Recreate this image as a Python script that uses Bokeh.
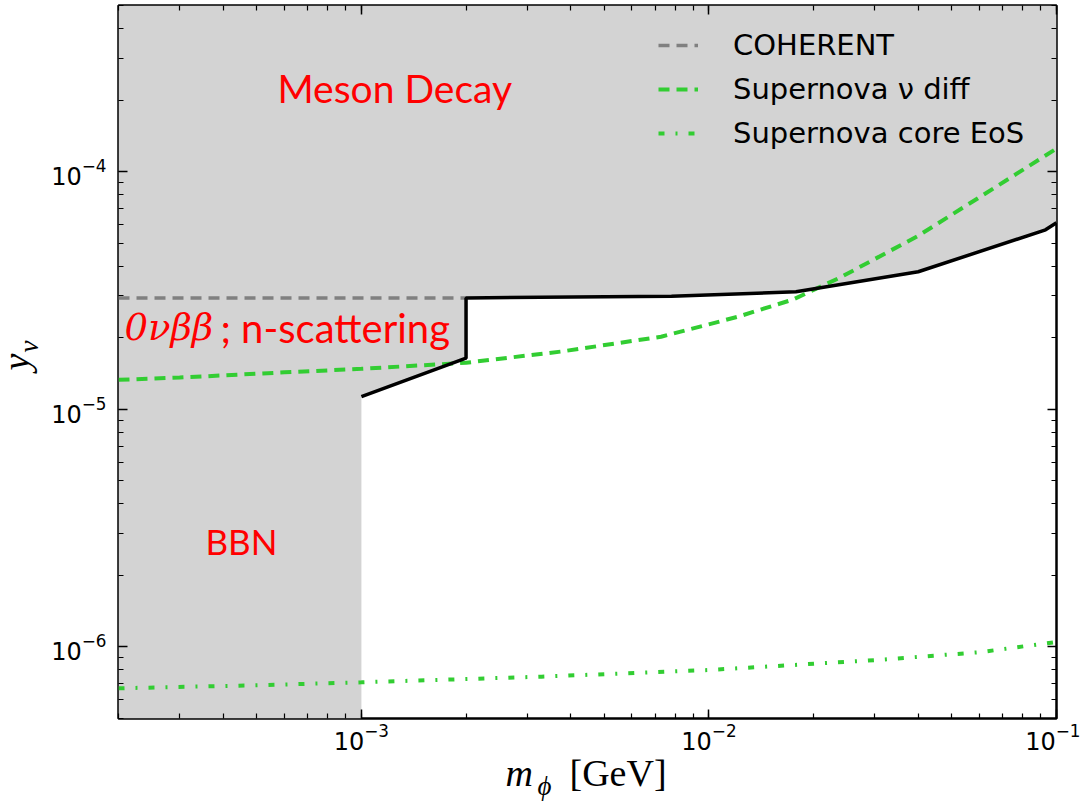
from bokeh.plotting import figure
from bokeh.layouts import row, column
from bokeh.models import LogAxis, LogTicker, Label, Legend, LegendItem, Range1d, CustomJSTickFormatter
from bokeh.embed import file_html
from bokeh.resources import INLINE

# ---------------- data ----------------
x_lim = [2e-4, 1e-1]
y_lim = [5e-7, 5e-4]

# COHERENT (gray dashed)
coherent_x = [2e-4, 2e-3]
coherent_y = [2.94e-5, 2.94e-5]

# combined exclusion boundary (black)
bound_x = [1e-3, 2e-3, 2e-3, 7.8e-3, 1.78e-2, 4.0e-2, 9.3e-2, 1e-1]
bound_y = [1.13e-5, 1.64e-5, 2.94e-5, 2.99e-5, 3.12e-5, 3.79e-5, 5.69e-5, 6.1e-5]

# BBN limit on m_phi
bbn_x = 1e-3

# Supernova nu diff (green dashed)
sn_diff_x = [2e-4, 3e-4, 6e-4, 1e-3, 2e-3, 3.76e-3, 7.28e-3, 1.21e-2, 1.75e-2, 2.39e-2, 4.0e-2, 6.17e-2, 1e-1]
sn_diff_y = [1.33e-5, 1.36e-5, 1.43e-5, 1.48e-5, 1.57e-5, 1.75e-5, 2.02e-5, 2.45e-5, 2.90e-5, 3.59e-5, 5.37e-5, 8.0e-5, 1.25e-4]

# Supernova core EoS (green dash-dot)
sn_eos_x = [2e-4, 5e-4, 1e-3, 3.3e-3, 1e-2, 3e-2, 6e-2, 1e-1]
sn_eos_y = [6.7e-7, 6.9e-7, 7.1e-7, 7.5e-7, 8.0e-7, 8.8e-7, 9.5e-7, 1.05e-6]

legend_labels = ["COHERENT", "Supernova \u03bd diff", "Supernova core EoS"]

GRAY_FILL = "#d3d3d3"
GREEN = "#32cd32"

YLAB_W = 46
MAIN_H = 753
XLAB_H = 53

p = figure(width=1034, height=MAIN_H, x_axis_type="log", y_axis_type="log",
           x_range=Range1d(x_lim[0], x_lim[1]), y_range=Range1d(y_lim[0], y_lim[1]),
           output_backend="svg", toolbar_location=None,
           min_border_left=72, min_border_right=24, min_border_top=5, min_border_bottom=35)
p.grid.visible = False
p.background_fill_color = "white"
p.border_fill_color = "white"
p.outline_line_color = "black"
p.outline_line_width = 2.5
p.outline_line_alpha = 1.0

# shaded excluded region
patch_x = [x_lim[0], bbn_x] + bound_x + [x_lim[1], x_lim[0]]
patch_y = [y_lim[0], y_lim[0]] + bound_y + [y_lim[1], y_lim[1]]
p.patch(patch_x, patch_y, fill_color=GRAY_FILL, line_color=None)

r_coh = p.line(coherent_x, coherent_y, line_color="#808080", line_width=3.5, line_dash="11 7")
r_diff = p.line(sn_diff_x, sn_diff_y, line_color=GREEN, line_width=4, line_dash="11 7")
r_eos = p.line(sn_eos_x, sn_eos_y, line_color=GREEN, line_width=4, line_dash="6 11 2 11")
p.line(bound_x, bound_y, line_color="black", line_width=3.5)

# axes styling
def style_axis(ax):
    ax.axis_line_color = None
    ax.major_tick_in = 9
    ax.major_tick_out = 0
    ax.minor_tick_in = 5
    ax.minor_tick_out = 0
    ax.major_tick_line_color = "black"
    ax.minor_tick_line_color = "black"
    ax.major_tick_line_width = 1.5
    ax.minor_tick_line_width = 1.2
    ax.major_label_text_font = "DejaVu Sans"
    ax.major_label_text_color = "black"
    ax.major_label_text_font_size = "24px"

for ax in p.xaxis:
    ax.ticker = LogTicker(mantissas=[1], num_minor_ticks=10)
    style_axis(ax)
    ax.major_label_standoff = 4
for ax in p.yaxis:
    ax.ticker = LogTicker(mantissas=[1], num_minor_ticks=10)
    style_axis(ax)
    ax.major_label_standoff = 12

top_ax = LogAxis(ticker=LogTicker(mantissas=[1], num_minor_ticks=10),
                 formatter=CustomJSTickFormatter(code="return ''"))
style_axis(top_ax)
top_ax.major_label_standoff = 0
top_ax.major_label_text_font_size = "1px"
p.add_layout(top_ax, "above")
right_ax = LogAxis(ticker=LogTicker(mantissas=[1], num_minor_ticks=10),
                   formatter=CustomJSTickFormatter(code="return ''"))
style_axis(right_ax)
right_ax.major_label_standoff = 0
right_ax.major_label_text_font_size = "1px"
p.add_layout(right_ax, "right")

# legend
legend = Legend(items=[LegendItem(label=legend_labels[0], renderers=[r_coh]),
                       LegendItem(label=legend_labels[1], renderers=[r_diff]),
                       LegendItem(label=legend_labels[2], renderers=[r_eos])],
                location=(540, 565), padding=0, margin=0, spacing=4,
                glyph_width=40, glyph_height=40, label_height=40, label_standoff=35,
                label_text_font="DejaVu Sans", label_text_font_size="29px",
                label_text_color="black",
                border_line_color=None, background_fill_alpha=0)
p.add_layout(legend)

# region labels
def make_label(x, y, text, size, font="Lato", style="normal", color="red", x_off=0, y_off=0,
               angle=0, units="data"):
    return Label(x=x, y=y, text=text, text_font=font, text_font_size=size,
                 text_font_style=style, text_color=color, x_offset=x_off, y_offset=y_off,
                 text_align="left", text_baseline="alphabetic", angle=angle,
                 x_units=units, y_units=units)

p.add_layout(make_label(5.81e-4, 2.0e-4, "Meson Decay", "39px", x_off=-2, y_off=12))
p.add_layout(make_label(2.08e-4, 2.0e-5, "0\u03bd\u03b2\u03b2", "37px", font="DejaVu Serif", style="italic", y_off=10))
p.add_layout(make_label(2.08e-4, 2.0e-5, "; n-scattering", "40px", x_off=96, y_off=10))
p.add_layout(make_label(3.63e-4, 2.4e-6, "BBN", "35px", x_off=-3, y_off=16))

# ---- axis titles: small text-only svg figures next to the plot ----
def text_fig(w, h):
    f = figure(width=w, height=h, x_range=Range1d(0, 1), y_range=Range1d(0, 1),
               x_axis_location=None, y_axis_location=None, output_backend="svg",
               toolbar_location=None, min_border_left=0, min_border_right=0,
               min_border_top=0, min_border_bottom=0)
    f.grid.visible = False
    f.outline_line_color = None
    f.background_fill_color = "white"
    f.border_fill_color = "white"
    return f

yfig = text_fig(YLAB_W, MAIN_H)
yfig.add_layout(make_label(15, MAIN_H - 405, "y", "38px", font="Liberation Serif", style="italic",
                           color="black", angle=1.5708, units="screen"))
yfig.add_layout(make_label(28, MAIN_H - 387, "\u03bd", "27px", font="Liberation Serif", style="italic",
                           color="black", angle=1.5708, units="screen"))

xfig = text_fig(YLAB_W + 1034, XLAB_H)
xfig.add_layout(make_label(505, 34, "m", "38px", font="Liberation Serif", style="italic",
                           color="black", units="screen"))
xfig.add_layout(make_label(537, 21, "\u03d5", "27px", font="Liberation Serif", style="italic",
                           color="black", units="screen"))
xfig.add_layout(make_label(569, 34, "[GeV]", "38px", font="Liberation Serif",
                           color="black", units="screen"))

layout = column(row(yfig, p, spacing=0), xfig, spacing=0)

open("out.html", "w").write(file_html(layout, INLINE))
